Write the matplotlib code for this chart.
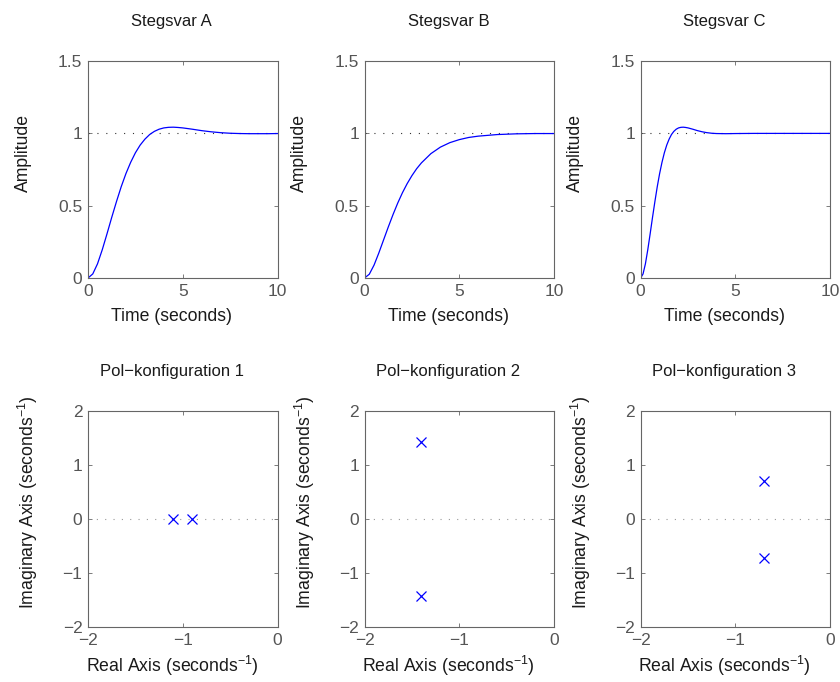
import matplotlib
matplotlib.use('Agg')
import matplotlib.pyplot as plt

plt.rcParams['font.family'] = ['Liberation Sans', 'DejaVu Sans']
plt.rcParams['mathtext.fontset'] = 'custom'
plt.rcParams['mathtext.rm'] = 'Liberation Sans'

# step responses
t_a = [0, 0.25, 0.5, 0.75, 1, 1.25, 1.5, 1.75, 2, 2.25, 2.5, 2.75, 3, 3.25, 3.5, 3.75,
       4, 4.25, 4.5, 4.75, 5, 5.5, 6, 6.5, 7, 7.5, 8, 8.5, 9, 9.5, 10]
y_a = [0, 0.028, 0.098, 0.195, 0.305, 0.419, 0.528, 0.631, 0.722, 0.800, 0.866, 0.919,
       0.960, 0.992, 1.014, 1.029, 1.038, 1.042, 1.043, 1.041, 1.038, 1.029, 1.019, 1.011,
       1.005, 1.001, 0.999, 0.998, 0.998, 0.998, 0.999]

t_b = [0, 0.25, 0.5, 0.75, 1, 1.25, 1.5, 1.75, 2, 2.25, 2.5, 2.75, 3, 3.5, 4, 4.5,
       5, 5.5, 6, 7, 8, 9, 10]
y_b = [0, 0.026, 0.089, 0.172, 0.262, 0.352, 0.438, 0.518, 0.590, 0.653, 0.708, 0.756,
       0.796, 0.860, 0.905, 0.936, 0.957, 0.972, 0.981, 0.992, 0.997, 0.999, 0.999]

t_c = [0, 0.125, 0.25, 0.375, 0.5, 0.625, 0.75, 0.875, 1, 1.125, 1.25, 1.375, 1.5, 1.625,
       1.75, 1.875, 2, 2.125, 2.25, 2.375, 2.5, 2.75, 3, 3.25, 3.5, 3.75, 4, 4.5, 5, 6, 8, 10]
y_c = [0, 0.028, 0.098, 0.195, 0.305, 0.419, 0.528, 0.631, 0.722, 0.800, 0.866, 0.919,
       0.960, 0.992, 1.014, 1.029, 1.038, 1.042, 1.043, 1.041, 1.038, 1.029, 1.019, 1.011,
       1.005, 1.001, 0.999, 0.998, 0.999, 1.0, 1.0, 1.0]

step_titles = ['Stegsvar A', 'Stegsvar B', 'Stegsvar C']
steps = [(t_a, y_a), (t_b, y_b), (t_c, y_c)]

# pole positions
poles_re = [[-1.1, -0.9], [-1.4, -1.4], [-0.7, -0.7]]
poles_im = [[0, 0], [1.43, -1.43], [0.71, -0.71]]
pz_titles = ['Pol-konfiguration 1', 'Pol-konfiguration 2', 'Pol-konfiguration 3']

fig = plt.figure(figsize=(8.4, 6.82), dpi=100)

lefts = [0.1048, 0.434, 0.7627]
w = 0.2256
edge = '#666666'
tickc = '#555555'
labc = '#1a1a1a'
fs_lab = 12.7
fs_tick = 12.5
fs_title = 12
# the labels sit a little left of / above the axes centre in the original
xc = 0.442
yc = 0.578


def style(ax):
    for s in ax.spines.values():
        s.set_color(edge)
        s.set_linewidth(0.8)
    ax.tick_params(direction='in', length=3, width=0.6, colors=edge, labelcolor=tickc,
                   labelsize=fs_tick, top=True, right=True, pad=4)
    ax.xaxis.label.set_x(xc)
    ax.yaxis.label.set_y(yc)


for i in range(3):
    ax = fig.add_axes([lefts[i], 0.5924, w, 0.318])
    ax.axhline(1, color='#333333', linestyle=(0, (1, 7)), linewidth=0.8)
    ax.plot(steps[i][0], steps[i][1], color='blue', linewidth=0.9)
    ax.set_xlim(0, 10)
    ax.set_ylim(0, 1.5)
    ax.set_xticks([0, 5, 10])
    ax.set_yticks([0, 0.5, 1, 1.5])
    ax.set_yticklabels(['0', '0.5', '1', '1.5'])
    ax.set_title(step_titles[i], fontsize=fs_title, color=labc, pad=25, x=xc)
    ax.set_xlabel('Time (seconds)', fontsize=fs_lab, color=labc, labelpad=7)
    ax.set_ylabel('Amplitude', fontsize=fs_lab, color=labc, labelpad=19)
    style(ax)

for i in range(3):
    ax = fig.add_axes([lefts[i], 0.0802, w, 0.317])
    ax.axhline(0, color='#999999', linestyle=(0, (1, 6.5)), linewidth=0.8)
    ax.plot(poles_re[i], poles_im[i], 'x', color='blue', markersize=7, markeredgewidth=0.9)
    ax.set_xlim(-2, 0)
    ax.set_ylim(-2, 2)
    ax.set_xticks([-2, -1, 0])
    ax.set_yticks([-2, -1, 0, 1, 2])
    ax.set_xticklabels(['\u22122', '\u22121', '0'])
    ax.set_yticklabels(['\u22122', '\u22121', '0', '1', '2'])
    ax.set_title(pz_titles[i].replace('-', '\u2212'), fontsize=fs_title, color=labc,
                 pad=25, x=xc)
    ax.set_xlabel('Real Axis (seconds$^{\u22121}$)', fontsize=fs_lab, color=labc, labelpad=4)
    ax.set_ylabel('Imaginary Axis (seconds$^{\u22121}$)', fontsize=fs_lab, color=labc,
                  labelpad=16)
    style(ax)

fig.savefig('out.png', dpi=100)
